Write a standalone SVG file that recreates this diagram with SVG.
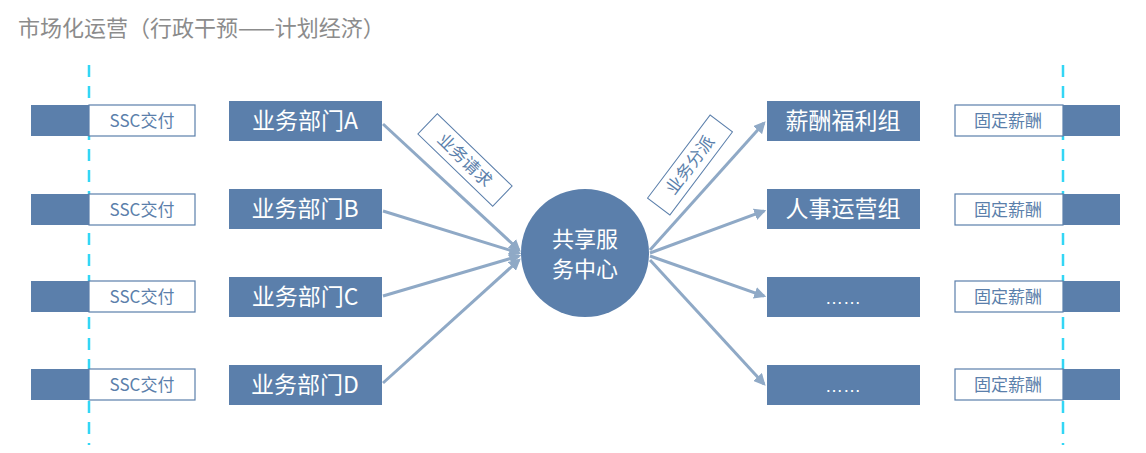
<svg xmlns="http://www.w3.org/2000/svg" width="1146" height="453" viewBox="0 0 1146 453">
<style>
.dk{fill:#5b7fab}
.wb{fill:#fff;stroke:#5b7fab;stroke-width:1.2}
.t{font-family:"Noto Sans CJK SC","Liberation Sans",sans-serif}
.st{fill:#5b7fab;font-size:17px}
.bt{fill:#fff;font-size:23px}
.dash{stroke:#33d6f5;stroke-width:2.5;stroke-dasharray:12 9}
.ar{stroke:#8fa9c6;stroke-width:3;fill:none;marker-end:url(#ah)}
.lb{fill:#fff;stroke:#5b7fab;stroke-width:1}
.lt{fill:#5b7fab;font-size:17px}
</style>
<defs><marker id="ah" viewBox="0 0 10 10" refX="8" refY="5" markerWidth="4" markerHeight="4" orient="auto"><path d="M0,0L10,5L0,10z" fill="#8fa9c6"/></marker></defs>
<rect width="1146" height="453" fill="#fff"/>
<text x="18" y="36" class="t" font-size="22" fill="#8c8c8c">市场化运营（行政干预——计划经济）</text>
<g id="connectors">
<line class="ar" x1="383" y1="124" x2="519" y2="250"/>
<line class="ar" x1="383" y1="211" x2="519" y2="253"/>
<line class="ar" x1="383" y1="296" x2="519" y2="256"/>
<line class="ar" x1="383" y1="383" x2="519" y2="260"/>
<line class="ar" x1="650" y1="250" x2="764" y2="123"/>
<line class="ar" x1="650" y1="253" x2="764" y2="211"/>
<line class="ar" x1="650" y1="256" x2="764" y2="296"/>
<line class="ar" x1="650" y1="260" x2="764" y2="384"/>
<g transform="translate(465,160) rotate(44)"><rect class="lb" x="-52" y="-14" width="104" height="28"/><text class="t lt" x="0" y="6" text-anchor="middle">业务请求</text></g>
<g transform="translate(690,165) rotate(-53)"><rect class="lb" x="-52" y="-14" width="104" height="28"/><text class="t lt" x="0" y="6" text-anchor="middle">业务分派</text></g>
</g>
<line class="dash" x1="89" y1="65" x2="89" y2="445"/>
<line class="dash" x1="1063" y1="65" x2="1063" y2="445"/>
<g id="ssc">
<rect class="dk" x="31" y="105" width="58" height="31"/><rect class="wb" x="89" y="105" width="106" height="31"/><text class="t st" x="142" y="127" text-anchor="middle">SSC交付</text>
<rect class="dk" x="31" y="194" width="58" height="31"/><rect class="wb" x="89" y="194" width="106" height="31"/><text class="t st" x="142" y="216" text-anchor="middle">SSC交付</text>
<rect class="dk" x="31" y="281" width="58" height="31"/><rect class="wb" x="89" y="281" width="106" height="31"/><text class="t st" x="142" y="303" text-anchor="middle">SSC交付</text>
<rect class="dk" x="31" y="369" width="58" height="31"/><rect class="wb" x="89" y="369" width="106" height="31"/><text class="t st" x="142" y="391" text-anchor="middle">SSC交付</text>
</g>
<g id="depts">
<rect class="dk" x="229" y="101" width="153" height="40"/><text class="t bt" x="305" y="129" text-anchor="middle">业务部门A</text>
<rect class="dk" x="229" y="189" width="153" height="40"/><text class="t bt" x="305" y="217" text-anchor="middle">业务部门B</text>
<rect class="dk" x="229" y="277" width="153" height="40"/><text class="t bt" x="305" y="305" text-anchor="middle">业务部门C</text>
<rect class="dk" x="229" y="365" width="153" height="40"/><text class="t bt" x="305" y="393" text-anchor="middle">业务部门D</text>
</g>
<g id="center">
<circle class="dk" cx="585" cy="253" r="64"/>
<text class="t" fill="#fff" font-size="22" x="585" y="247" text-anchor="middle">共享服</text>
<text class="t" fill="#fff" font-size="22" x="585" y="277" text-anchor="middle">务中心</text>
</g>
<g id="groups">
<rect class="dk" x="767" y="101" width="153" height="40"/><text class="t bt" x="843" y="129" text-anchor="middle">薪酬福利组</text>
<rect class="dk" x="767" y="189" width="153" height="40"/><text class="t bt" x="843" y="217" text-anchor="middle">人事运营组</text>
<rect class="dk" x="767" y="277" width="153" height="40"/><text font-family="Liberation Sans, sans-serif" fill="#fff" font-size="18" x="843" y="304" text-anchor="middle">……</text>
<rect class="dk" x="767" y="365" width="153" height="40"/><text font-family="Liberation Sans, sans-serif" fill="#fff" font-size="18" x="843" y="392" text-anchor="middle">……</text>
</g>
<g id="fixed">
<rect class="wb" x="955" y="105" width="108" height="31"/><rect class="dk" x="1063" y="105" width="57" height="31"/><text class="t st" x="1008" y="127" text-anchor="middle">固定薪酬</text>
<rect class="wb" x="955" y="194" width="108" height="31"/><rect class="dk" x="1063" y="194" width="57" height="31"/><text class="t st" x="1008" y="216" text-anchor="middle">固定薪酬</text>
<rect class="wb" x="955" y="281" width="108" height="31"/><rect class="dk" x="1063" y="281" width="57" height="31"/><text class="t st" x="1008" y="303" text-anchor="middle">固定薪酬</text>
<rect class="wb" x="955" y="369" width="108" height="31"/><rect class="dk" x="1063" y="369" width="57" height="31"/><text class="t st" x="1008" y="391" text-anchor="middle">固定薪酬</text>
</g>
</svg>
